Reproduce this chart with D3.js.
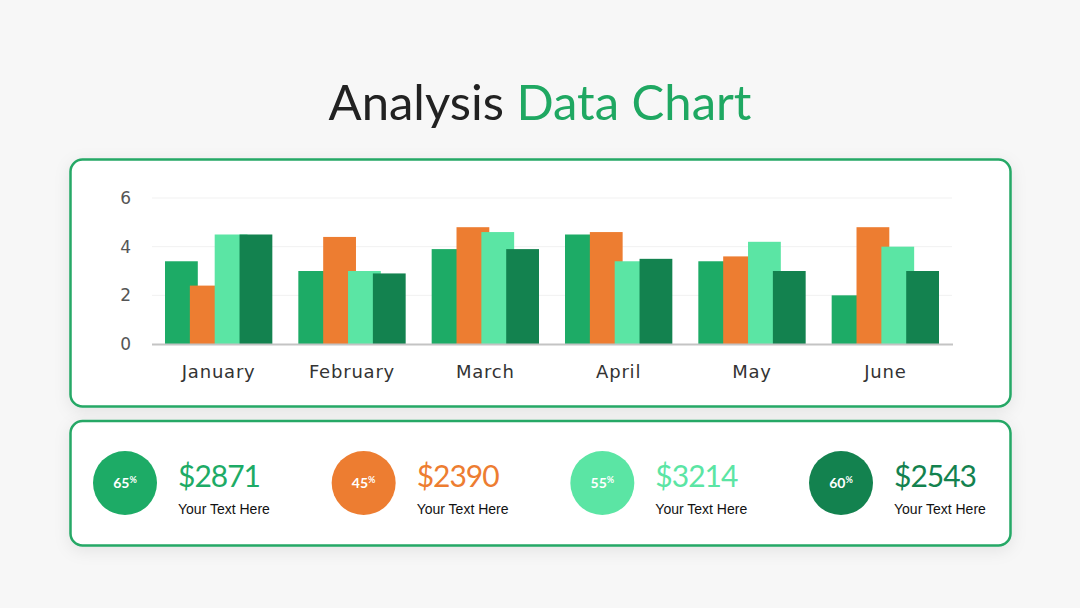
<!DOCTYPE html>
<html>
<head>
<meta charset="utf-8">
<script src="https://cdn.jsdelivr.net/npm/d3@7"></script>
<style>
  html, body { margin: 0; padding: 0; background: #f7f7f7; }
  svg { display: block; }
</style>
</head>
<body>
<svg id="chart" width="1080" height="608"></svg>
<script>
// data
const months = ["January", "February", "March", "April", "May", "June"];
const series1 = [3.4, 3.0, 3.9, 4.5, 3.4, 2.0];
const series2 = [2.4, 4.4, 4.8, 4.6, 3.6, 4.8];
const series3 = [4.5, 3.0, 4.6, 3.4, 4.2, 4.0];
const series4 = [4.5, 2.9, 3.9, 3.5, 3.0, 3.0];
const yTicks = [0, 2, 4, 6];
const colors = ["#1dab66", "#ed7d31", "#5be5a4", "#13824f"];

const statPercents = ["65", "45", "55", "60"];
const statValues = ["$2871", "$2390", "$3214", "$2543"];
const statLabels = ["Your Text Here", "Your Text Here", "Your Text Here", "Your Text Here"];

const allSeries = [series1, series2, series3, series4];

const svg = d3.select("#chart");

// shadow for the panels
const defs = svg.append("defs");
const f = defs.append("filter").attr("id", "shadow")
  .attr("x", "-10%").attr("y", "-20%").attr("width", "120%").attr("height", "150%");
f.append("feDropShadow").attr("dx", 0).attr("dy", 4).attr("stdDeviation", 8)
  .attr("flood-color", "#000").attr("flood-opacity", 0.08);

// title
const title = svg.append("text")
  .attr("x", 540).attr("y", 120)
  .attr("text-anchor", "middle")
  .attr("font-family", "Lato, 'Open Sans', sans-serif")
  .attr("font-size", 49);
title.append("tspan").attr("fill", "#222").text("Analysis ");
title.append("tspan").attr("fill", "#1fa862").text("Data Chart");

// panels
svg.append("rect")
  .attr("x", 70.5).attr("y", 159.5).attr("width", 940).attr("height", 247)
  .attr("rx", 12).attr("fill", "#fff").attr("stroke", "#25a866").attr("stroke-width", 2.5)
  .attr("filter", "url(#shadow)");
svg.append("rect")
  .attr("x", 70.5).attr("y", 421).attr("width", 940).attr("height", 124.5)
  .attr("rx", 12).attr("fill", "#fff").attr("stroke", "#25a866").attr("stroke-width", 2.5)
  .attr("filter", "url(#shadow)");

// bar chart
const x = d3.scaleBand().domain(months).range([152, 952]).paddingInner(0.195).paddingOuter(0.0975);
const y = d3.scaleLinear().domain([0, 6]).range([344, 198]);

const step = x.bandwidth() / (allSeries.length - 1 + 33 / 25);
const barW = step * 33 / 25;

svg.append("g").selectAll("line")
  .data(yTicks.filter(d => d > 0))
  .join("line")
  .attr("x1", 152).attr("x2", 952)
  .attr("y1", d => y(d)).attr("y2", d => y(d))
  .attr("stroke", "#f1f1f1").attr("stroke-width", 1);

svg.append("g").selectAll("text")
  .data(yTicks)
  .join("text")
  .attr("x", 131).attr("y", d => y(d))
  .attr("dy", "0.36em")
  .attr("text-anchor", "end")
  .attr("font-family", "'DejaVu Sans', sans-serif")
  .attr("font-size", 17)
  .attr("fill", "#555")
  .text(d => d);

allSeries.forEach((s, i) => {
  svg.append("g").selectAll("rect")
    .data(s)
    .join("rect")
    .attr("x", (d, j) => x(months[j]) + i * step)
    .attr("y", d => y(d))
    .attr("width", barW)
    .attr("height", d => y(0) - y(d))
    .attr("fill", colors[i]);
});

svg.append("line")
  .attr("x1", 152).attr("x2", 953)
  .attr("y1", y(0) + 0.5).attr("y2", y(0) + 0.5)
  .attr("stroke", "#c4c4c4").attr("stroke-width", 2);

svg.append("g").selectAll("text")
  .data(months)
  .join("text")
  .attr("x", d => x(d) + x.bandwidth() / 2)
  .attr("y", 378)
  .attr("text-anchor", "middle")
  .attr("font-family", "'DejaVu Sans', sans-serif")
  .attr("font-size", 18)
  .attr("letter-spacing", 0.8)
  .attr("fill", "#333")
  .text(d => d);

// stats row
const statX = d3.scalePoint().domain(d3.range(4)).range([125, 841]);

const stat = svg.append("g").selectAll("g")
  .data(d3.range(4))
  .join("g")
  .attr("transform", d => `translate(${statX(d)},483)`);

stat.append("circle").attr("r", 32).attr("fill", d => colors[d]);

const pct = stat.append("text")
  .attr("text-anchor", "middle")
  .attr("y", 5)
  .attr("font-family", "Lato, sans-serif")
  .attr("font-weight", "bold")
  .attr("fill", "#fff");
pct.append("tspan").attr("font-size", 14).text(d => statPercents[d]);
pct.append("tspan").attr("font-size", 9).attr("dy", -5).text("%");

stat.append("text")
  .attr("x", 53).attr("y", 4)
  .attr("font-family", "Lato, sans-serif")
  .attr("font-size", 30)
  .attr("letter-spacing", -1)
  .attr("fill", d => colors[d])
  .text(d => statValues[d]);

stat.append("text")
  .attr("x", 53).attr("y", 31)
  .attr("font-family", "'Liberation Sans', Arial, sans-serif")
  .attr("font-size", 14)
  .attr("fill", "#111")
  .text(d => statLabels[d]);
</script>
</body>
</html>
